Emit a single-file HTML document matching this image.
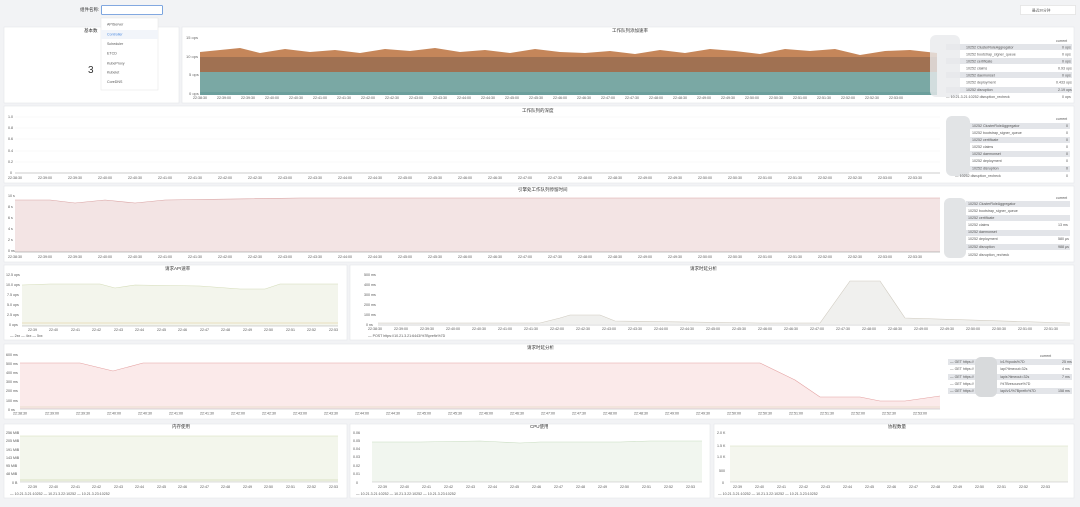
<!DOCTYPE html>
<html><head><meta charset="utf-8"><style>
html,body{margin:0;padding:0;background:#f2f3f5;}
svg{display:block;font-family:"Liberation Sans","Noto Sans CJK SC",sans-serif;}
.t{font-size:4px;fill:#666;}
.ti{font-size:4.5px;fill:#333;}
.l{font-size:3.6px;fill:#555;}
</style></head><body>
<svg width="1080" height="507" viewBox="0 0 1080 507" xmlns="http://www.w3.org/2000/svg">
<rect width="1080" height="507" fill="#f2f3f5"/>
<text x="80" y="11" class="ti">组件名称:</text>
<rect x="101.5" y="5.5" width="61" height="9" fill="#fff" stroke="#5b8fd8" stroke-width="0.8" rx="1"/>
<rect x="1020.5" y="5.5" width="55" height="9" fill="#fff" stroke="#ddd" stroke-width="0.6"/>
<text x="1032" y="11.5" class="l">最近30分钟</text>

<g fill="#fff" stroke="#e4e6ea" stroke-width="0.6">
<rect x="4" y="27" width="175" height="76"/>
<rect x="182" y="27" width="892" height="76"/>
<rect x="4" y="106" width="1070" height="77"/>
<rect x="4" y="186" width="1070" height="76"/>
<rect x="4" y="265" width="343" height="75"/>
<rect x="350" y="265" width="724" height="75"/>
<rect x="4" y="344" width="1070" height="75"/>
<rect x="4" y="424" width="343" height="74"/>
<rect x="350" y="424" width="360" height="74"/>
<rect x="714" y="424" width="360" height="74"/>
</g>

<text x="84" y="32" class="ti">基本数</text>
<text x="88" y="73" font-size="10" fill="#333">3</text>

<text x="612" y="32" class="ti">工作队列添加速率</text>
<text x="186" y="39" class="t">15 ops</text>
<text x="186" y="58" class="t">10 ops</text>
<text x="189" y="76" class="t">5 ops</text>
<text x="189" y="95" class="t">0 ops</text>
<path d="M200,52 L220,50 L240,48 L260,53 L285,49 L310,52 L335,50 L360,53 L385,49 L410,51 L435,48 L460,52 L485,50 L510,53 L535,49 L560,52 L585,53 L610,51 L635,54 L660,50 L685,53 L710,49 L735,51 L760,54 L785,49 L810,51 L835,49 L860,55 L885,51 L910,50 L937,53 L937,95 L200,95Z" fill="#c5865a"/>
<rect x="200" y="57" width="737" height="15" fill="#a07152"/>
<rect x="200" y="72" width="737" height="23" fill="#7aa8a4"/>
<rect x="200" y="92" width="737" height="3" fill="#6c9f9c"/>
<g class="l">
<text x="193" y="99">22:38:30</text><text x="217" y="99">22:39:00</text><text x="241" y="99">22:39:30</text><text x="265" y="99">22:40:00</text><text x="289" y="99">22:40:30</text><text x="313" y="99">22:41:00</text><text x="337" y="99">22:41:30</text><text x="361" y="99">22:42:00</text><text x="385" y="99">22:42:30</text><text x="409" y="99">22:43:00</text><text x="433" y="99">22:43:30</text><text x="457" y="99">22:44:00</text><text x="481" y="99">22:44:30</text><text x="505" y="99">22:45:00</text><text x="529" y="99">22:45:30</text><text x="553" y="99">22:46:00</text><text x="577" y="99">22:46:30</text><text x="601" y="99">22:47:00</text><text x="625" y="99">22:47:30</text><text x="649" y="99">22:48:00</text><text x="673" y="99">22:48:30</text><text x="697" y="99">22:49:00</text><text x="721" y="99">22:49:30</text><text x="745" y="99">22:50:00</text><text x="769" y="99">22:50:30</text><text x="793" y="99">22:51:00</text><text x="817" y="99">22:51:30</text><text x="841" y="99">22:52:00</text><text x="865" y="99">22:52:30</text><text x="889" y="99">22:53:00</text>
</g>
<text x="1056" y="42" class="l" fill="#57a">current</text>
<g fill="#e3e5e9"><rect x="946" y="44" width="126" height="6"/><rect x="946" y="58" width="126" height="6"/><rect x="946" y="72" width="126" height="6"/><rect x="946" y="87" width="126" height="6"/></g>
<rect x="930" y="35" width="30" height="62" fill="#e9eaec" opacity="0.8" rx="6"/>
<g class="l">
<text x="966" y="48.5">10252 ClusterRoleAggregator</text><text x="1062" y="48.5">0 ops</text>
<text x="966" y="55.5">10252 bootstrap_signer_queue</text><text x="1062" y="55.5">0 ops</text>
<text x="966" y="62.5">10252 certificate</text><text x="1062" y="62.5">0 ops</text>
<text x="966" y="69.5">10252 claims</text><text x="1058" y="69.5">0.93 ops</text>
<text x="966" y="76.5">10252 daemonset</text><text x="1062" y="76.5">0 ops</text>
<text x="966" y="83.5">10252 deployment</text><text x="1056" y="83.5">0.433 ops</text>
<text x="966" y="91">10252 disruption</text><text x="1058" y="91">2.19 ops</text>
<text x="946" y="98">— 10.21.3.21:10252 disruption_recheck</text><text x="1062" y="98">0 ops</text>
</g>

<rect x="101" y="18" width="57" height="72" fill="#fff" stroke="#e3e3e3" stroke-width="0.5"/>
<rect x="101" y="30" width="57" height="9" fill="#f2f5fa"/>
<g class="l" fill="#777">
<text x="107" y="25.5">APIServer</text><text x="107" y="35.5" fill="#4a8ae0">Controller</text><text x="107" y="45">Scheduler</text><text x="107" y="54.5">ETCD</text><text x="107" y="64.5">KubeProxy</text><text x="107" y="73.5">Kubelet</text><text x="107" y="83">CoreDNS</text>
</g>

<!-- row2 -->
<text x="522" y="112" class="ti">工作队列的深度</text>
<g class="l"><text x="8" y="118">1.0</text><text x="8" y="129">0.8</text><text x="8" y="140">0.6</text><text x="8" y="152">0.4</text><text x="8" y="163">0.2</text><text x="10" y="174">0</text></g>
<g stroke="#f0f0f0" stroke-width="0.4"><line x1="15" y1="117" x2="940" y2="117"/><line x1="15" y1="128" x2="940" y2="128"/><line x1="15" y1="139" x2="940" y2="139"/><line x1="15" y1="151" x2="940" y2="151"/><line x1="15" y1="162" x2="940" y2="162"/></g>
<line x1="15" y1="173" x2="940" y2="173" stroke="#999" stroke-width="0.6"/>
<g class="l">
<text x="8" y="179">22:38:30</text><text x="38" y="179">22:39:00</text><text x="68" y="179">22:39:30</text><text x="98" y="179">22:40:00</text><text x="128" y="179">22:40:30</text><text x="158" y="179">22:41:00</text><text x="188" y="179">22:41:30</text><text x="218" y="179">22:42:00</text><text x="248" y="179">22:42:30</text><text x="278" y="179">22:43:00</text><text x="308" y="179">22:43:30</text><text x="338" y="179">22:44:00</text><text x="368" y="179">22:44:30</text><text x="398" y="179">22:45:00</text><text x="428" y="179">22:45:30</text><text x="458" y="179">22:46:00</text><text x="488" y="179">22:46:30</text><text x="518" y="179">22:47:00</text><text x="548" y="179">22:47:30</text><text x="578" y="179">22:48:00</text><text x="608" y="179">22:48:30</text><text x="638" y="179">22:49:00</text><text x="668" y="179">22:49:30</text><text x="698" y="179">22:50:00</text><text x="728" y="179">22:50:30</text><text x="758" y="179">22:51:00</text><text x="788" y="179">22:51:30</text><text x="818" y="179">22:52:00</text><text x="848" y="179">22:52:30</text><text x="878" y="179">22:53:00</text><text x="908" y="179">22:53:30</text>
</g>
<text x="1056" y="120" class="l" fill="#57a">current</text>
<g fill="#e3e5e9"><rect x="970" y="123" width="100" height="6"/><rect x="970" y="137" width="100" height="6"/><rect x="970" y="151" width="100" height="6"/><rect x="970" y="166" width="100" height="6"/></g>
<rect x="946" y="116" width="24" height="60" fill="#e2e4e6" rx="6"/>
<g class="l">
<text x="972" y="127">10252 ClusterRoleAggregator</text><text x="1066" y="127">0</text>
<text x="972" y="134">10252 bootstrap_signer_queue</text><text x="1066" y="134">0</text>
<text x="972" y="141">10252 certificate</text><text x="1066" y="141">0</text>
<text x="972" y="148">10252 claims</text><text x="1066" y="148">0</text>
<text x="972" y="155">10252 daemonset</text><text x="1066" y="155">0</text>
<text x="972" y="162">10252 deployment</text><text x="1066" y="162">0</text>
<text x="972" y="169.5">10252 disruption</text><text x="1066" y="169.5">0</text>
<text x="955" y="177">— 10252 disruption_recheck</text><text x="1066" y="177">0</text>
</g>

<!-- row3 -->
<text x="518" y="191" class="ti">引擎处工作队列停留时间</text>
<g class="l"><text x="8" y="197">10 s</text><text x="8" y="208">8 s</text><text x="8" y="219">6 s</text><text x="8" y="230">4 s</text><text x="8" y="241">2 s</text><text x="8" y="252">0 ns</text></g>
<path d="M15,200 L50,200 L75,203 L105,200 L135,203 L165,200 L300,198 L940,198 L940,252 L15,252Z" fill="#f3e4e4"/>
<path d="M15,200 L50,200 L75,203 L105,200 L135,203 L165,200 L300,198 L940,198" fill="none" stroke="#d9a2a2" stroke-width="0.6"/>
<line x1="15" y1="252" x2="940" y2="252" stroke="#888" stroke-width="0.6"/>
<g class="l">
<text x="8" y="258">22:38:30</text><text x="38" y="258">22:39:00</text><text x="68" y="258">22:39:30</text><text x="98" y="258">22:40:00</text><text x="128" y="258">22:40:30</text><text x="158" y="258">22:41:00</text><text x="188" y="258">22:41:30</text><text x="218" y="258">22:42:00</text><text x="248" y="258">22:42:30</text><text x="278" y="258">22:43:00</text><text x="308" y="258">22:43:30</text><text x="338" y="258">22:44:00</text><text x="368" y="258">22:44:30</text><text x="398" y="258">22:45:00</text><text x="428" y="258">22:45:30</text><text x="458" y="258">22:46:00</text><text x="488" y="258">22:46:30</text><text x="518" y="258">22:47:00</text><text x="548" y="258">22:47:30</text><text x="578" y="258">22:48:00</text><text x="608" y="258">22:48:30</text><text x="638" y="258">22:49:00</text><text x="668" y="258">22:49:30</text><text x="698" y="258">22:50:00</text><text x="728" y="258">22:50:30</text><text x="758" y="258">22:51:00</text><text x="788" y="258">22:51:30</text><text x="818" y="258">22:52:00</text><text x="848" y="258">22:52:30</text><text x="878" y="258">22:53:00</text><text x="908" y="258">22:53:30</text>
</g>
<text x="1056" y="199" class="l" fill="#57a">current</text>
<g fill="#e3e5e9"><rect x="966" y="201" width="104" height="6"/><rect x="966" y="215" width="104" height="6"/><rect x="966" y="230" width="104" height="6"/><rect x="966" y="244" width="104" height="6"/></g>
<rect x="944" y="198" width="22" height="60" fill="#e2e4e6" rx="6"/>
<g class="l">
<text x="968" y="205">10252 ClusterRoleAggregator</text>
<text x="968" y="212">10252 bootstrap_signer_queue</text>
<text x="968" y="219">10252 certificate</text>
<text x="968" y="226">10252 claims</text><text x="1058" y="226">13 ms</text>
<text x="968" y="233">10252 daemonset</text>
<text x="968" y="240">10252 deployment</text><text x="1058" y="240">580 μs</text>
<text x="968" y="248">10252 disruption</text><text x="1058" y="248">988 μs</text>
<text x="968" y="256">10252 disruption_recheck</text>
</g>

<!-- row4 left -->
<text x="165" y="270" class="ti">请求API速率</text>
<g class="l"><text x="6" y="276">12.5 ops</text><text x="6" y="286">10.0 ops</text><text x="7" y="296">7.5 ops</text><text x="7" y="306">5.0 ops</text><text x="7" y="316">2.5 ops</text><text x="9" y="326">0 ops</text></g>
<path d="M22,285 L50,284 L100,284 L115,288 L135,285 L200,286 L240,289 L265,289 L280,284 L338,284 L338,326 L22,326Z" fill="#f3f5ec"/>
<path d="M22,285 L50,284 L100,284 L115,288 L135,285 L200,286 L240,289 L265,289 L280,284 L338,284" fill="none" stroke="#d4dcb8" stroke-width="0.6"/>
<line x1="22" y1="323" x2="338" y2="323" stroke="#e0c890" stroke-width="0.6"/>
<line x1="22" y1="326" x2="338" y2="326" stroke="#aaa" stroke-width="0.5"/>
<g class="l"><text x="28" y="331">22:39</text><text x="49" y="331">22:40</text><text x="71" y="331">22:41</text><text x="92" y="331">22:42</text><text x="114" y="331">22:43</text><text x="135" y="331">22:44</text><text x="157" y="331">22:45</text><text x="178" y="331">22:46</text><text x="200" y="331">22:47</text><text x="221" y="331">22:48</text><text x="243" y="331">22:49</text><text x="264" y="331">22:50</text><text x="286" y="331">22:51</text><text x="307" y="331">22:52</text><text x="329" y="331">22:53</text></g>
<text x="10" y="337" class="l">— 2xx  — 4xx  — 5xx</text>

<!-- row4 right -->
<text x="690" y="270" class="ti">请求时延分析</text>
<g class="l"><text x="364" y="276">500 ms</text><text x="364" y="286">400 ms</text><text x="364" y="296">300 ms</text><text x="364" y="306">200 ms</text><text x="364" y="316">100 ms</text><text x="366" y="326">0 ns</text></g>
<path d="M378,323 L540,323 L560,318 L570,315 L600,315 L615,321 L760,323 L820,323 L850,281 L880,281 L905,318 L1070,323 L1070,324 L378,324Z" fill="#f0f0ee"/>
<path d="M378,323 L540,323 L560,318 L570,315 L600,315 L615,321 L760,323 L820,323 L850,281 L880,281 L905,318 L1070,323" fill="none" stroke="#cfcabf" stroke-width="0.6"/>
<line x1="378" y1="325" x2="1070" y2="325" stroke="#aaa" stroke-width="0.5"/>
<g class="l"><text x="368" y="330">22:38:30</text><text x="394" y="330">22:39:00</text><text x="420" y="330">22:39:30</text><text x="446" y="330">22:40:00</text><text x="472" y="330">22:40:30</text><text x="498" y="330">22:41:00</text><text x="524" y="330">22:41:30</text><text x="550" y="330">22:42:00</text><text x="576" y="330">22:42:30</text><text x="602" y="330">22:43:00</text><text x="628" y="330">22:43:30</text><text x="654" y="330">22:44:00</text><text x="680" y="330">22:44:30</text><text x="706" y="330">22:45:00</text><text x="732" y="330">22:45:30</text><text x="758" y="330">22:46:00</text><text x="784" y="330">22:46:30</text><text x="810" y="330">22:47:00</text><text x="836" y="330">22:47:30</text><text x="862" y="330">22:48:00</text><text x="888" y="330">22:48:30</text><text x="914" y="330">22:49:00</text><text x="940" y="330">22:49:30</text><text x="966" y="330">22:50:00</text><text x="992" y="330">22:50:30</text><text x="1018" y="330">22:51:00</text><text x="1044" y="330">22:51:30</text></g>
<text x="368" y="337" class="l">— POST https://10.21.3.21:6443/%7Bprefix%7D</text>

<!-- row5 -->
<text x="527" y="349" class="ti">请求时延分析</text>
<g class="l"><text x="6" y="356">600 ms</text><text x="6" y="365">500 ms</text><text x="6" y="374">400 ms</text><text x="6" y="383">300 ms</text><text x="6" y="392">200 ms</text><text x="6" y="402">100 ms</text><text x="8" y="411">0 ns</text></g>
<path d="M20,363 L80,363 L113,371 L143,363 L760,363 L795,380 L820,397 L860,397 L880,401 L905,401 L940,396 L940,409 L20,409Z" fill="#fbeaea"/>
<path d="M20,363 L80,363 L113,371 L143,363 L760,363 L795,380 L820,397 L860,397 L880,401 L905,401 L940,396" fill="none" stroke="#e4a0a0" stroke-width="0.6"/>
<line x1="20" y1="407" x2="940" y2="407" stroke="#d6d1b0" stroke-width="0.6"/>
<line x1="20" y1="409" x2="940" y2="409" stroke="#aaa" stroke-width="0.5"/>
<g class="l"><text x="13" y="414.5">22:38:30</text><text x="45" y="414.5">22:39:00</text><text x="76" y="414.5">22:39:30</text><text x="107" y="414.5">22:40:00</text><text x="138" y="414.5">22:40:30</text><text x="169" y="414.5">22:41:00</text><text x="200" y="414.5">22:41:30</text><text x="231" y="414.5">22:42:00</text><text x="262" y="414.5">22:42:30</text><text x="293" y="414.5">22:43:00</text><text x="324" y="414.5">22:43:30</text><text x="355" y="414.5">22:44:00</text><text x="386" y="414.5">22:44:30</text><text x="417" y="414.5">22:45:00</text><text x="448" y="414.5">22:45:30</text><text x="479" y="414.5">22:46:00</text><text x="510" y="414.5">22:46:30</text><text x="541" y="414.5">22:47:00</text><text x="572" y="414.5">22:47:30</text><text x="603" y="414.5">22:48:00</text><text x="634" y="414.5">22:48:30</text><text x="665" y="414.5">22:49:00</text><text x="696" y="414.5">22:49:30</text><text x="727" y="414.5">22:50:00</text><text x="758" y="414.5">22:50:30</text><text x="789" y="414.5">22:51:00</text><text x="820" y="414.5">22:51:30</text><text x="851" y="414.5">22:52:00</text><text x="882" y="414.5">22:52:30</text><text x="913" y="414.5">22:53:00</text></g>
<text x="1040" y="357" class="l" fill="#57a">current</text>
<g fill="#e3e5e9"><rect x="948" y="359" width="124" height="6"/><rect x="948" y="374" width="124" height="6"/><rect x="948" y="388" width="124" height="6"/></g>
<rect x="975" y="357" width="22" height="40" fill="#d8dadc" rx="6"/>
<g class="l">
<text x="950" y="363">— GET https://</text><text x="1000" y="363">/v1/%pods%7D</text><text x="1062" y="363">25 ms</text>
<text x="950" y="370">— GET https://</text><text x="1000" y="370">/api?timeout=32s</text><text x="1062" y="370">4 ms</text>
<text x="950" y="378">— GET https://</text><text x="1000" y="378">/apis?timeout=32s</text><text x="1062" y="378">7 ms</text>
<text x="950" y="385">— GET https://</text><text x="1000" y="385">/%7Bresource%7D</text>
<text x="950" y="392">— GET https://</text><text x="1000" y="392">/api/v1/%7Bprefix%7D</text><text x="1058" y="392">158 ms</text>
</g>

<!-- row6 -->
<text x="172" y="428" class="ti">内存使用</text>
<text x="530" y="428" class="ti">CPU使用</text>
<text x="888" y="428" class="ti">协程数量</text>
<g class="l"><text x="6" y="434">256 MiB</text><text x="6" y="442">205 MiB</text><text x="6" y="451">191 MiB</text><text x="6" y="459">143 MiB</text><text x="6" y="467">95 MiB</text><text x="6" y="475">48 MiB</text><text x="12" y="484">0 B</text></g>
<rect x="20" y="436" width="318" height="46" fill="#f3f6ec"/>
<line x1="20" y1="436" x2="338" y2="436" stroke="#d3dcb8" stroke-width="0.6"/>
<line x1="20" y1="480" x2="338" y2="480" stroke="#d3dcb8" stroke-width="0.8"/>
<line x1="20" y1="482" x2="338" y2="482" stroke="#bbb" stroke-width="0.5"/>
<g class="l"><text x="28" y="488">22:39</text><text x="49" y="488">22:40</text><text x="71" y="488">22:41</text><text x="92" y="488">22:42</text><text x="114" y="488">22:43</text><text x="135" y="488">22:44</text><text x="157" y="488">22:45</text><text x="178" y="488">22:46</text><text x="200" y="488">22:47</text><text x="221" y="488">22:48</text><text x="243" y="488">22:49</text><text x="264" y="488">22:50</text><text x="286" y="488">22:51</text><text x="307" y="488">22:52</text><text x="329" y="488">22:53</text></g>
<text x="10" y="495" class="l">— 10.21.3.21:10252  — 10.21.3.22:10252  — 10.21.3.23:10252</text>

<g class="l"><text x="353" y="434">0.06</text><text x="353" y="442">0.05</text><text x="353" y="450">0.04</text><text x="353" y="458">0.03</text><text x="353" y="467">0.02</text><text x="353" y="475">0.01</text><text x="356" y="484">0</text></g>
<path d="M372,442 L420,442 L480,441 L500,442 L520,443 L540,442 L600,442 L620,442 L650,441 L702,441 L702,482 L372,482Z" fill="#f1f6ef"/>
<path d="M372,442 L420,442 L480,441 L500,442 L520,443 L540,442 L600,442 L620,442 L650,441 L702,441" fill="none" stroke="#c8dcc0" stroke-width="0.6"/>
<line x1="372" y1="482" x2="702" y2="482" stroke="#bbb" stroke-width="0.5"/>
<g class="l"><text x="378" y="488">22:39</text><text x="400" y="488">22:40</text><text x="422" y="488">22:41</text><text x="444" y="488">22:42</text><text x="466" y="488">22:43</text><text x="488" y="488">22:44</text><text x="510" y="488">22:45</text><text x="532" y="488">22:46</text><text x="554" y="488">22:47</text><text x="576" y="488">22:48</text><text x="598" y="488">22:49</text><text x="620" y="488">22:50</text><text x="642" y="488">22:51</text><text x="664" y="488">22:52</text><text x="686" y="488">22:53</text></g>
<text x="356" y="495" class="l">— 10.21.3.21:10252  — 10.21.3.22:10252  — 10.21.3.23:10252</text>

<g class="l"><text x="717" y="434">2.0 K</text><text x="717" y="447">1.5 K</text><text x="717" y="458">1.0 K</text><text x="719" y="472">500</text><text x="722" y="484">0</text></g>
<rect x="730" y="446" width="338" height="36" fill="#f4f6ee"/>
<line x1="730" y1="446" x2="1068" y2="446" stroke="#d6dbbc" stroke-width="0.6"/>
<line x1="730" y1="482" x2="1068" y2="482" stroke="#bbb" stroke-width="0.5"/>
<g class="l"><text x="733" y="488">22:39</text><text x="755" y="488">22:40</text><text x="777" y="488">22:41</text><text x="799" y="488">22:42</text><text x="821" y="488">22:43</text><text x="843" y="488">22:44</text><text x="865" y="488">22:45</text><text x="887" y="488">22:46</text><text x="909" y="488">22:47</text><text x="931" y="488">22:48</text><text x="953" y="488">22:49</text><text x="975" y="488">22:50</text><text x="997" y="488">22:51</text><text x="1019" y="488">22:52</text><text x="1041" y="488">22:53</text></g>
<text x="718" y="495" class="l">— 10.21.3.21:10252  — 10.21.3.22:10252  — 10.21.3.23:10252</text>
</svg>
</body></html>
